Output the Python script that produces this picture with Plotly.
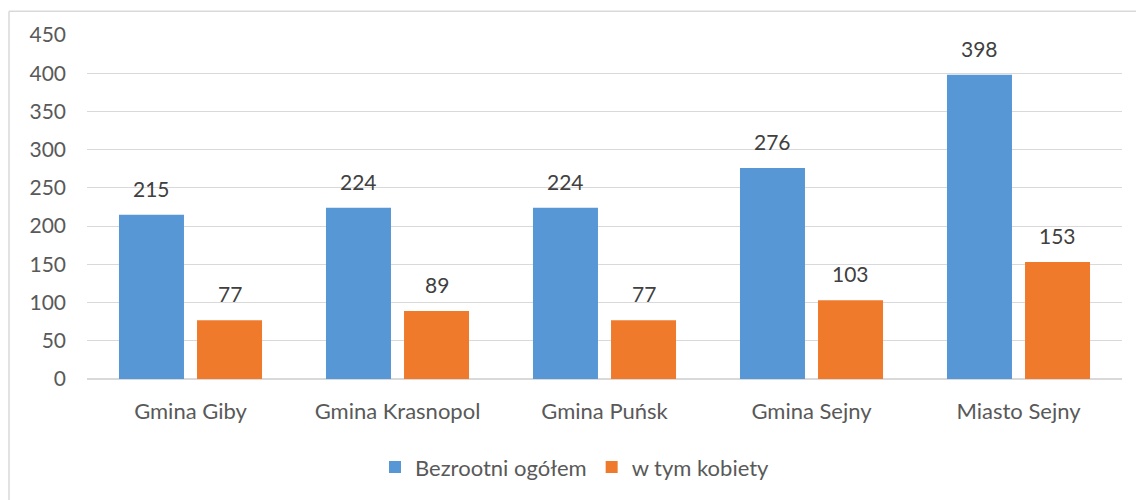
import plotly.graph_objects as go

categories = ["Gmina Giby", "Gmina Krasnopol", "Gmina Puńsk", "Gmina Sejny", "Miasto Sejny"]
total = [215, 224, 224, 276, 398]
women = [77, 89, 77, 103, 153]
series_names = ["Bezrootni ogółem", "w tym kobiety"]
y_ticks = [0, 50, 100, 150, 200, 250, 300, 350, 400, 450]

W, H = 1136, 500
L, R, T, B = 87, 14, 35, 118
pw, ph = W - L - R, H - T - B

FONT = "Lato"
fig = go.Figure()
fig.add_trace(go.Bar(x=categories, y=total, name=series_names[0],
                     marker=dict(color="#5797d6", line=dict(width=0))))
fig.add_trace(go.Bar(x=categories, y=women, name=series_names[1],
                     marker=dict(color="#ef7a2c", line=dict(width=0))))

for vals, shift in ((total, -39), (women, 39)):
    for c, v in zip(categories, vals):
        fig.add_annotation(x=c, y=v, xref="x", yref="y", text=str(v), showarrow=False,
                           yanchor="bottom", yshift=12, xshift=shift,
                           font=dict(family=FONT, size=21, color="#404040"))

# outer chart border: only left and top edges fall inside the frame
bx = (9 - L) / pw
by = (H - 11 - B) / ph
fig.add_shape(type="line", xref="paper", yref="paper",
              x0=bx, x1=bx, y0=-(B + 20) / ph, y1=by,
              line=dict(color="#d9d9d9", width=1.5), layer="below")
fig.add_shape(type="line", xref="paper", yref="paper",
              x0=bx, x1=(W + 20 - L) / pw, y0=by, y1=by,
              line=dict(color="#d9d9d9", width=1.5), layer="below")

fig.update_layout(
    width=W, height=H,
    margin=dict(l=L, r=R, t=T, b=B),
    paper_bgcolor="white", plot_bgcolor="white",
    barmode="group", bargap=0.246, bargroupgap=0.167,
    font=dict(family=FONT, size=21, color="#595959"),
    showlegend=True,
    legend=dict(orientation="h", x=(375 - L) / pw, xanchor="left",
                y=(H - B - 471) / ph, yanchor="middle",
                font=dict(family=FONT, size=22, color="#595959"),
                itemwidth=30, tracegroupgap=0),
    xaxis=dict(showgrid=False, showline=False, ticks="", ticklabelstandoff=17,
               tickfont=dict(family=FONT, size=22, color="#595959")),
    yaxis=dict(range=[0, 450], tickvals=y_ticks, showgrid=True, gridcolor="#d9d9d9",
               gridwidth=1.3, zeroline=True, zerolinecolor="#d9d9d9", zerolinewidth=1.5,
               showline=False, ticks="", ticklabelstandoff=20,
               tickfont=dict(family=FONT, size=21, color="#595959")),
)

fig.write_html("out.html", config={"displayModeBar": False},
               post_script="document.body.style.margin='0';document.body.style.overflow='hidden';")
